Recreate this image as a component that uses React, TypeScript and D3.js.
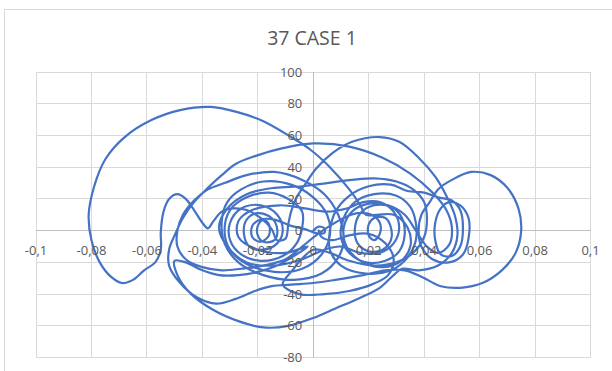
import React from 'react';
import * as d3 from 'd3';

type Pt = [number, number];

// Hysteresis trace, drawn in order as one continuous smoothed line.
const startLoop: Pt[] = [
  [0.0, 0], [0.002, 2.5], [0.004, 1.5], [0.004, -1.5], [0.001, -1.5], [-0.003, 1],
];

const leftSpiral: Pt[] = [
  [-0.008, 3], [-0.014, 7], [-0.019, 7], [-0.022, 3], [-0.022, -4], [-0.019, -7],
  [-0.016, -3], [-0.016, 4], [-0.018, 7], [-0.02, 3], [-0.02, -3], [-0.018, -7],
  [-0.014, -6], [-0.013, 1], [-0.015, 8], [-0.02, 11], [-0.024, 7], [-0.025, -2],
  [-0.023, -10], [-0.018, -12], [-0.013, -8], [-0.011, 0], [-0.013, 10], [-0.019, 16],
  [-0.026, 14], [-0.03, 5], [-0.03, -6], [-0.026, -15], [-0.019, -19], [-0.011, -16],
  [-0.006, -8],
];

const midCircles: Pt[] = [
  [-0.004, 2], [-0.004, 12], [-0.009, 20], [-0.016, 24], [-0.024, 21], [-0.03, 13],
  [-0.032, 0], [-0.03, -12], [-0.024, -21], [-0.014, -26], [-0.004, -24], [0.003, -15],
  [0.006, -3], [0.005, 10], [0.0, 21], [-0.008, 29], [-0.018, 31], [-0.026, 26],
  [-0.031, 18], [-0.033, 6], [-0.032, -8], [-0.027, -20], [-0.018, -28], [-0.007, -31],
  [0.003, -27], [0.009, -17], [0.011, -5], [0.009, 10], [0.004, 23], [-0.004, 32],
  [-0.014, 37], [-0.024, 35],
];

const innerLeftLoop: Pt[] = [
  [-0.032, 30], [-0.038, 26], [-0.043, 19], [-0.047, 10], [-0.049, 0], [-0.049, -10],
  [-0.046, -18], [-0.04, -23], [-0.033, -25], [-0.026, -24], [-0.018, -22], [-0.01, -18],
  [-0.004, -10], [0.001, -3],
];

const rightCluster: Pt[] = [
  [0.006, 3], [0.011, 8], [0.016, 11], [0.021, 10], [0.024, 5], [0.024, -2],
  [0.022, -6], [0.02, -3], [0.02, 4], [0.022, 8], [0.026, 8], [0.028, 2],
  [0.028, -6], [0.025, -12], [0.02, -13], [0.016, -8], [0.015, 1], [0.017, 11],
  [0.022, 16], [0.028, 15], [0.032, 8], [0.033, -2], [0.031, -13], [0.026, -19],
  [0.019, -20], [0.013, -14], [0.01, -4], [0.011, 8], [0.015, 18], [0.022, 23],
  [0.03, 22], [0.035, 15], [0.037, 5], [0.037, -6], [0.034, -17], [0.028, -25],
  [0.019, -27], [0.01, -22], [0.006, -12], [0.006, 0],
];

const farRightLoops: Pt[] = [
  [0.008, 12], [0.013, 22], [0.02, 28], [0.028, 29], [0.034, 25], [0.04, 24],
  [0.045, 21], [0.05, 19], [0.053, 13], [0.054, 2], [0.053, -10], [0.05, -16],
  [0.046, -15], [0.044, -6], [0.044, 5], [0.046, 14], [0.049, 18], [0.053, 16],
  [0.056, 8], [0.056, -5], [0.054, -15], [0.049, -20], [0.043, -18], [0.039, -10],
  [0.038, 0], [0.039, 10], [0.042, 18],
];

const rightLobe: Pt[] = [
  [0.045, 26], [0.05, 32], [0.057, 37], [0.064, 35], [0.07, 27], [0.074, 14],
  [0.075, 0], [0.073, -14], [0.068, -25], [0.061, -33], [0.053, -36], [0.046, -35],
  [0.039, -29], [0.033, -25], [0.026, -25], [0.018, -28], [0.008, -31], [0.0, -33],
  [-0.008, -34], [-0.015, -35], [-0.021, -38], [-0.028, -43], [-0.035, -46], [-0.042, -42],
  [-0.048, -33], [-0.052, -22], [-0.052, -12], [-0.05, -3], [-0.047, 8], [-0.043, 18],
];

const upperArc: Pt[] = [
  [-0.038, 27], [-0.033, 35], [-0.028, 42], [-0.021, 47], [-0.011, 52], [0.0, 55],
  [0.013, 53], [0.025, 46], [0.035, 36], [0.043, 24], [0.048, 13], [0.05, 2],
  [0.049, -9], [0.045, -14], [0.041, -10], [0.037, 0], [0.033, 10], [0.027, 16],
  [0.02, 17], [0.014, 12], [0.011, 2], [0.012, -10], [0.017, -19], [0.024, -23],
  [0.031, -20], [0.035, -10], [0.034, 2], [0.029, 10], [0.023, 10],
];

const bigLeftLoop: Pt[] = [
  [0.019, 10], [0.017, 16], [0.013, 26], [0.006, 40], [-0.001, 51], [-0.008, 59],
  [-0.018, 69], [-0.028, 75], [-0.037, 78], [-0.048, 76], [-0.058, 70], [-0.068, 59],
  [-0.075, 45], [-0.079, 28], [-0.081, 10], [-0.08, -6], [-0.077, -20], [-0.073, -29],
  [-0.069, -33], [-0.065, -31], [-0.061, -25], [-0.057, -20], [-0.055, -12], [-0.055, -1],
  [-0.054, 12], [-0.052, 20], [-0.049, 23], [-0.046, 20], [-0.043, 13], [-0.04, 5],
  [-0.038, 1.5], [-0.036, 6], [-0.033, 12], [-0.029, 14], [-0.024, 13], [-0.019, 8],
  [-0.015, 1], [-0.013, -6], [-0.01, -5],
];

const topRightArc: Pt[] = [
  [-0.009, 4], [-0.008, 12], [-0.006, 21], [-0.003, 29], [0.001, 39], [0.007, 49],
  [0.014, 56], [0.024, 59], [0.031, 56], [0.038, 46], [0.044, 34], [0.048, 22],
  [0.051, 10], [0.052, -3], [0.05, -14], [0.045, -22], [0.038, -25], [0.032, -24],
];

const bottomArc: Pt[] = [
  [0.029, -28], [0.024, -36], [0.016, -43], [0.008, -49], [0.0, -55], [-0.009, -60],
  [-0.018, -61], [-0.027, -57], [-0.036, -50], [-0.044, -40], [-0.049, -28], [-0.05, -19],
  [-0.046, -20], [-0.04, -25], [-0.034, -28], [-0.027, -28], [-0.02, -26], [-0.013, -22],
  [-0.007, -16],
];

const bridgeLoops: Pt[] = [
  [-0.002, -10], [-0.01, -14], [-0.02, -12], [-0.027, -4], [-0.027, 6], [-0.022, 13],
  [-0.012, 16], [-0.003, 14], [0.005, 12], [0.012, 14], [0.018, 18], [0.024, 18],
  [0.029, 12], [0.031, 2], [0.029, -8], [0.024, -14], [0.017, -14], [0.01, -10],
  [0.004, -12], [-0.004, -18], [-0.014, -22], [-0.024, -20], [-0.031, -10], [-0.034, 2],
  [-0.031, 14], [-0.024, 23], [-0.014, 27], [-0.004, 28], [0.005, 30], [0.014, 32],
  [0.022, 33], [0.03, 31], [0.036, 26], [0.04, 18], [0.041, 8], [0.04, -4],
  [0.036, -14], [0.03, -20], [0.022, -22], [0.013, -19], [0.006, -14], [0.0, -12],
];

const tail: Pt[] = [
  [-0.008, -26], [-0.011, -34], [-0.005, -40], [0.004, -40], [0.013, -38], [0.021, -34],
  [0.027, -28], [0.029, -18], [0.026, -8], [0.02, -2], [0.013, -3], [0.007, -6],
  [0.003, -4], [0.002, 0],
];

const trace: Pt[] = [
  ...startLoop, ...leftSpiral, ...midCircles, ...innerLeftLoop, ...rightCluster,
  ...farRightLoops, ...rightLobe, ...upperArc, ...bigLeftLoop, ...topRightArc,
  ...bottomArc, ...bridgeLoops, ...tail,
];

const xTicks = [-0.1, -0.08, -0.06, -0.04, -0.02, 0, 0.02, 0.04, 0.06, 0.08, 0.1];
const xTickLabels = ['-0,1', '-0,08', '-0,06', '-0,04', '-0,02', '0', '0,02', '0,04', '0,06', '0,08', '0,1'];
const yTicks = [100, 80, 60, 40, 20, 0, -20, -40, -60, -80];
const yTickLabels = ['100', '80', '60', '40', '20', '0', '-20', '-40', '-60', '-80'];

const W = 612;
const H = 371;
const plot = { left: 36, right: 590.5, top: 72, bottom: 357.6 };
const font = "'Open Sans', 'Liberation Sans', sans-serif";

export default function App() {
  const x = d3.scaleLinear().domain([-0.1, 0.1]).range([plot.left, plot.right]);
  const y = d3.scaleLinear().domain([-80, 100]).range([plot.bottom, plot.top]);
  const line = d3
    .line<Pt>()
    .x((d) => x(d[0]))
    .y((d) => y(d[1]))
    .curve(d3.curveCatmullRom.alpha(0.5));

  const x0 = x(0);
  const y0 = y(0);

  return (
    <svg
      width={W}
      height={H}
      style={{ position: 'absolute', left: 0, top: 0, background: '#fff' }}
    >
      <rect x={4.5} y={9.5} width={640} height={400} fill="#fff" stroke="#d9d9d9" strokeWidth={1} />
      <text x={312} y={44.5} textAnchor="middle" fontFamily={font} fontSize={19.5} fill="#595959">
        37 CASE 1
      </text>
      <g stroke="#d9d9d9" strokeWidth={1} shapeRendering="crispEdges">
        {xTicks.map((t) => (
          <line key={'vx' + t} x1={x(t)} x2={x(t)} y1={plot.top} y2={plot.bottom} />
        ))}
        {yTicks.map((t) => (
          <line key={'hy' + t} x1={plot.left} x2={plot.right} y1={y(t)} y2={y(t)} />
        ))}
      </g>
      <g stroke="#bfbfbf" strokeWidth={1} shapeRendering="crispEdges">
        <line x1={x0} x2={x0} y1={plot.top} y2={plot.bottom} />
        <line x1={plot.left} x2={plot.right} y1={y0} y2={y0} />
      </g>
      <path
        d={line(trace) ?? ''}
        fill="none"
        stroke="#4472C4"
        strokeWidth={2.2}
        strokeLinejoin="round"
        strokeLinecap="round"
      />
      <g fontFamily={font} fontSize={13} fill="#595959">
        {xTicks.map((t, i) => (
          <text key={'xl' + t} x={x(t)} y={y0 + 24.5} textAnchor="middle">
            {xTickLabels[i]}
          </text>
        ))}
        {yTicks.map((t, i) => (
          <text key={'yl' + t} x={x0 - 11} y={y(t) + 4.6} textAnchor="end">
            {yTickLabels[i]}
          </text>
        ))}
      </g>
    </svg>
  );
}
